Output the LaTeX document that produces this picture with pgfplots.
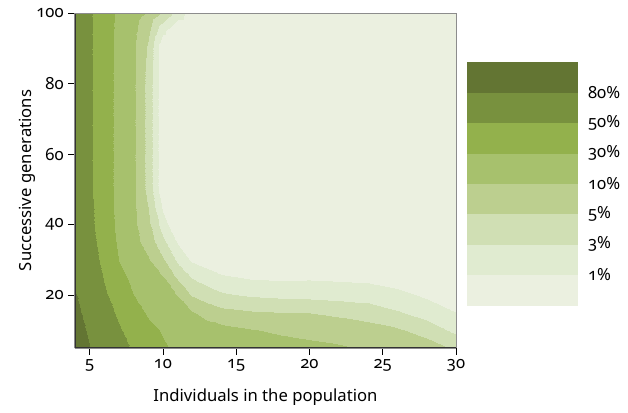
\documentclass[border=0pt]{standalone}
\usepackage{pgfplots}
\pgfplotsset{compat=1.18}
\usepackage{fontspec}
\setmainfont{Noto Sans}[Numbers=OldStyle]
\newfontfamily\ticknumfont{Noto Sans}[Numbers=OldStyle]
\newcommand\mynumlab[1]{\hbox{\ticknumfont #1}}
\begin{document}
\begin{tikzpicture}[font=\fontsize{12.5}{15}\selectfont]
\useasboundingbox (-56.25pt,-48pt) rectangle (414.75pt,261pt);
\begin{axis}[
  view={0}{90},
  scale only axis, width=285.75pt, height=251.25pt,
  xmin=4, xmax=30, ymin=5, ymax=100,
  enlargelimits=false,
  xtick={5,10,15,20,25,30}, ytick={20,40,60,80,100},
  xticklabels={\mynumlab{5},\mynumlab{10},\mynumlab{15},\mynumlab{20},\mynumlab{25},\mynumlab{30}},
  yticklabels={\mynumlab{20},\mynumlab{40},\mynumlab{60},\mynumlab{80},\mynumlab{100}},
  tick label style={font=\fontsize{12.5}{15}\selectfont},
  xtick pos=left, ytick pos=left,
  tick align=outside, major tick length=5pt,
  axis line style={black!45, line width=0.75pt},
  tick style={black, line width=0.6pt},
  xlabel={Individuals in the population},
  ylabel={Successive generations},
  x label style={at={(axis description cs:0.5,-0.146)}, anchor=center},
  y label style={at={(axis description cs:-0.126,0.5)}, anchor=center, rotate=0},
  colormap={greens}{rgb255(0)=(235,240,224) rgb255(1)=(224,235,208) rgb255(2)=(208,223,180) rgb255(3)=(188,207,143) rgb255(4)=(167,193,109) rgb255(5)=(147,177,76) rgb255(6)=(120,145,62) rgb255(7)=(99,117,51) rgb255(8)=(99,117,51)},
  colormap access=piecewise constant,
  point meta min=0, point meta max=8,
  colorbar,
  colorbar shift/.style={xshift=8.25pt, yshift=-36.75pt},
  colorbar style={
    at={(parent axis.north east)}, anchor=north west,
    width=83.25pt, height=182.25pt,
    ytick={1,2,3,4,5,6,7},
    yticklabels={1\%,3\%,5\%,10\%,30\%,50\%,80\%},
    yticklabel pos=right,
    major tick length=0pt,
    axis line style={draw=none},
    tick style={draw=none},
    yticklabel style={anchor=west, xshift=4pt},
  },
]
\addplot3[surf, shader=interp, mesh/cols=19] coordinates {
(4,5,7.37) (5,5,7.01) (6,5,6.64) (7,5,6.27) (8,5,5.90) (9,5,5.52) (10,5,5.10) (11,5,4.85) (12,5,4.78) (13,5,4.72) (14,5,4.66) (16,5,4.52) (18,5,4.38) (20,5,4.24) (22,5,4.12) (24,5,3.90) (26,5,3.60) (28,5,3.50) (30,5,2.85)

(4,10,7.29) (5,10,6.89) (6,10,6.48) (7,10,6.08) (8,10,5.65) (9,10,5.22) (10,10,4.93) (11,10,4.75) (12,10,4.55) (13,10,4.42) (14,10,4.30) (16,10,4.05) (18,10,3.86) (20,10,3.72) (22,10,3.55) (24,10,3.38) (26,10,3.13) (28,10,2.58) (30,10,1.73)

(4,15,7.18) (5,15,6.75) (6,15,6.32) (7,15,5.87) (8,15,5.35) (9,15,4.91) (10,15,4.64) (11,15,4.37) (12,15,4.10) (13,15,3.67) (14,15,3.35) (16,15,3.14) (18,15,3.05) (20,15,3.01) (22,15,2.83) (24,15,2.60) (26,15,2.13) (28,15,1.59) (30,15,1.03)

(4,20,7.05) (5,20,6.59) (6,20,6.13) (7,20,5.58) (8,20,4.99) (9,20,4.66) (10,20,4.32) (11,20,3.96) (12,20,2.92) (13,20,2.50) (14,20,2.14) (16,20,1.89) (18,20,1.78) (20,20,1.72) (22,20,1.64) (24,20,1.55) (26,20,1.29) (28,20,0.84) (30,20,0.32)

(4,25,6.88) (5,25,6.64) (6,25,5.94) (7,25,5.25) (8,25,4.77) (9,25,4.40) (10,25,4.04) (11,25,2.79) (12,25,1.92) (13,25,1.50) (14,25,1.14) (16,25,0.87) (18,25,0.82) (20,25,0.86) (22,25,0.80) (24,25,0.74) (26,25,0.49) (28,25,0.09) (30,25,0)

(4,30,6.85) (5,30,6.50) (6,30,5.73) (7,30,4.98) (8,30,4.55) (9,30,4.12) (10,30,3.12) (11,30,1.76) (12,30,0.87) (13,30,0.52) (14,30,0.15) (16,30,0) (18,30,0) (20,30,0) (22,30,0) (24,30,0) (26,30,0) (28,30,0) (30,30,0)

(4,35,6.85) (5,35,6.35) (6,35,5.58) (7,35,4.86) (8,35,4.32) (9,35,3.60) (10,35,2.27) (11,35,0.87) (12,35,0) (13,35,0) (14,35,0) (16,35,0) (18,35,0) (20,35,0) (22,35,0) (24,35,0) (26,35,0) (28,35,0) (30,35,0)

(4,40,6.85) (5,40,6.22) (6,40,5.48) (7,40,4.79) (8,40,4.18) (9,40,3.26) (10,40,1.50) (11,40,0) (12,40,0) (13,40,0) (14,40,0) (16,40,0) (18,40,0) (20,40,0) (22,40,0) (24,40,0) (26,40,0) (28,40,0) (30,40,0)

(4,45,6.85) (5,45,6.19) (6,45,5.44) (7,45,4.75) (8,45,4.13) (9,45,3.00) (10,45,0.80) (11,45,0) (12,45,0) (13,45,0) (14,45,0) (16,45,0) (18,45,0) (20,45,0) (22,45,0) (24,45,0) (26,45,0) (28,45,0) (30,45,0)

(4,50,6.84) (5,50,6.12) (6,50,5.41) (7,50,4.74) (8,50,4.12) (9,50,2.68) (10,50,0.21) (11,50,0) (12,50,0) (13,50,0) (14,50,0) (16,50,0) (18,50,0) (20,50,0) (22,50,0) (24,50,0) (26,50,0) (28,50,0) (30,50,0)

(4,60,6.84) (5,60,6.12) (6,60,5.41) (7,60,4.74) (8,60,4.12) (9,60,2.68) (10,60,0.21) (11,60,0) (12,60,0) (13,60,0) (14,60,0) (16,60,0) (18,60,0) (20,60,0) (22,60,0) (24,60,0) (26,60,0) (28,60,0) (30,60,0)

(4,70,6.84) (5,70,6.12) (6,70,5.41) (7,70,4.74) (8,70,4.12) (9,70,2.68) (10,70,0.21) (11,70,0) (12,70,0) (13,70,0) (14,70,0) (16,70,0) (18,70,0) (20,70,0) (22,70,0) (24,70,0) (26,70,0) (28,70,0) (30,70,0)

(4,80,6.84) (5,80,6.12) (6,80,5.41) (7,80,4.74) (8,80,4.12) (9,80,2.68) (10,80,0.21) (11,80,0) (12,80,0) (13,80,0) (14,80,0) (16,80,0) (18,80,0) (20,80,0) (22,80,0) (24,80,0) (26,80,0) (28,80,0) (30,80,0)

(4,90,6.81) (5,90,6.11) (6,90,5.42) (7,90,4.76) (8,90,4.15) (9,90,2.86) (10,90,0.25) (11,90,0) (12,90,0) (13,90,0) (14,90,0) (16,90,0) (18,90,0) (20,90,0) (22,90,0) (24,90,0) (26,90,0) (28,90,0) (30,90,0)

(4,95,6.81) (5,95,6.11) (6,95,5.42) (7,95,4.78) (8,95,4.22) (9,95,3.25) (10,95,1.20) (11,95,0) (12,95,0) (13,95,0) (14,95,0) (16,95,0) (18,95,0) (20,95,0) (22,95,0) (24,95,0) (26,95,0) (28,95,0) (30,95,0)

(4,100,6.81) (5,100,6.11) (6,100,5.42) (7,100,4.83) (8,100,4.39) (9,100,3.90) (10,100,2.86) (11,100,1.56) (12,100,0.44) (13,100,0) (14,100,0) (16,100,0) (18,100,0) (20,100,0) (22,100,0) (24,100,0) (26,100,0) (28,100,0) (30,100,0)
};
\draw[black!80, line width=1pt] (axis description cs:0,1) -- (axis description cs:0,0) -- (axis description cs:1,0);
\end{axis}
\end{tikzpicture}
\end{document}
